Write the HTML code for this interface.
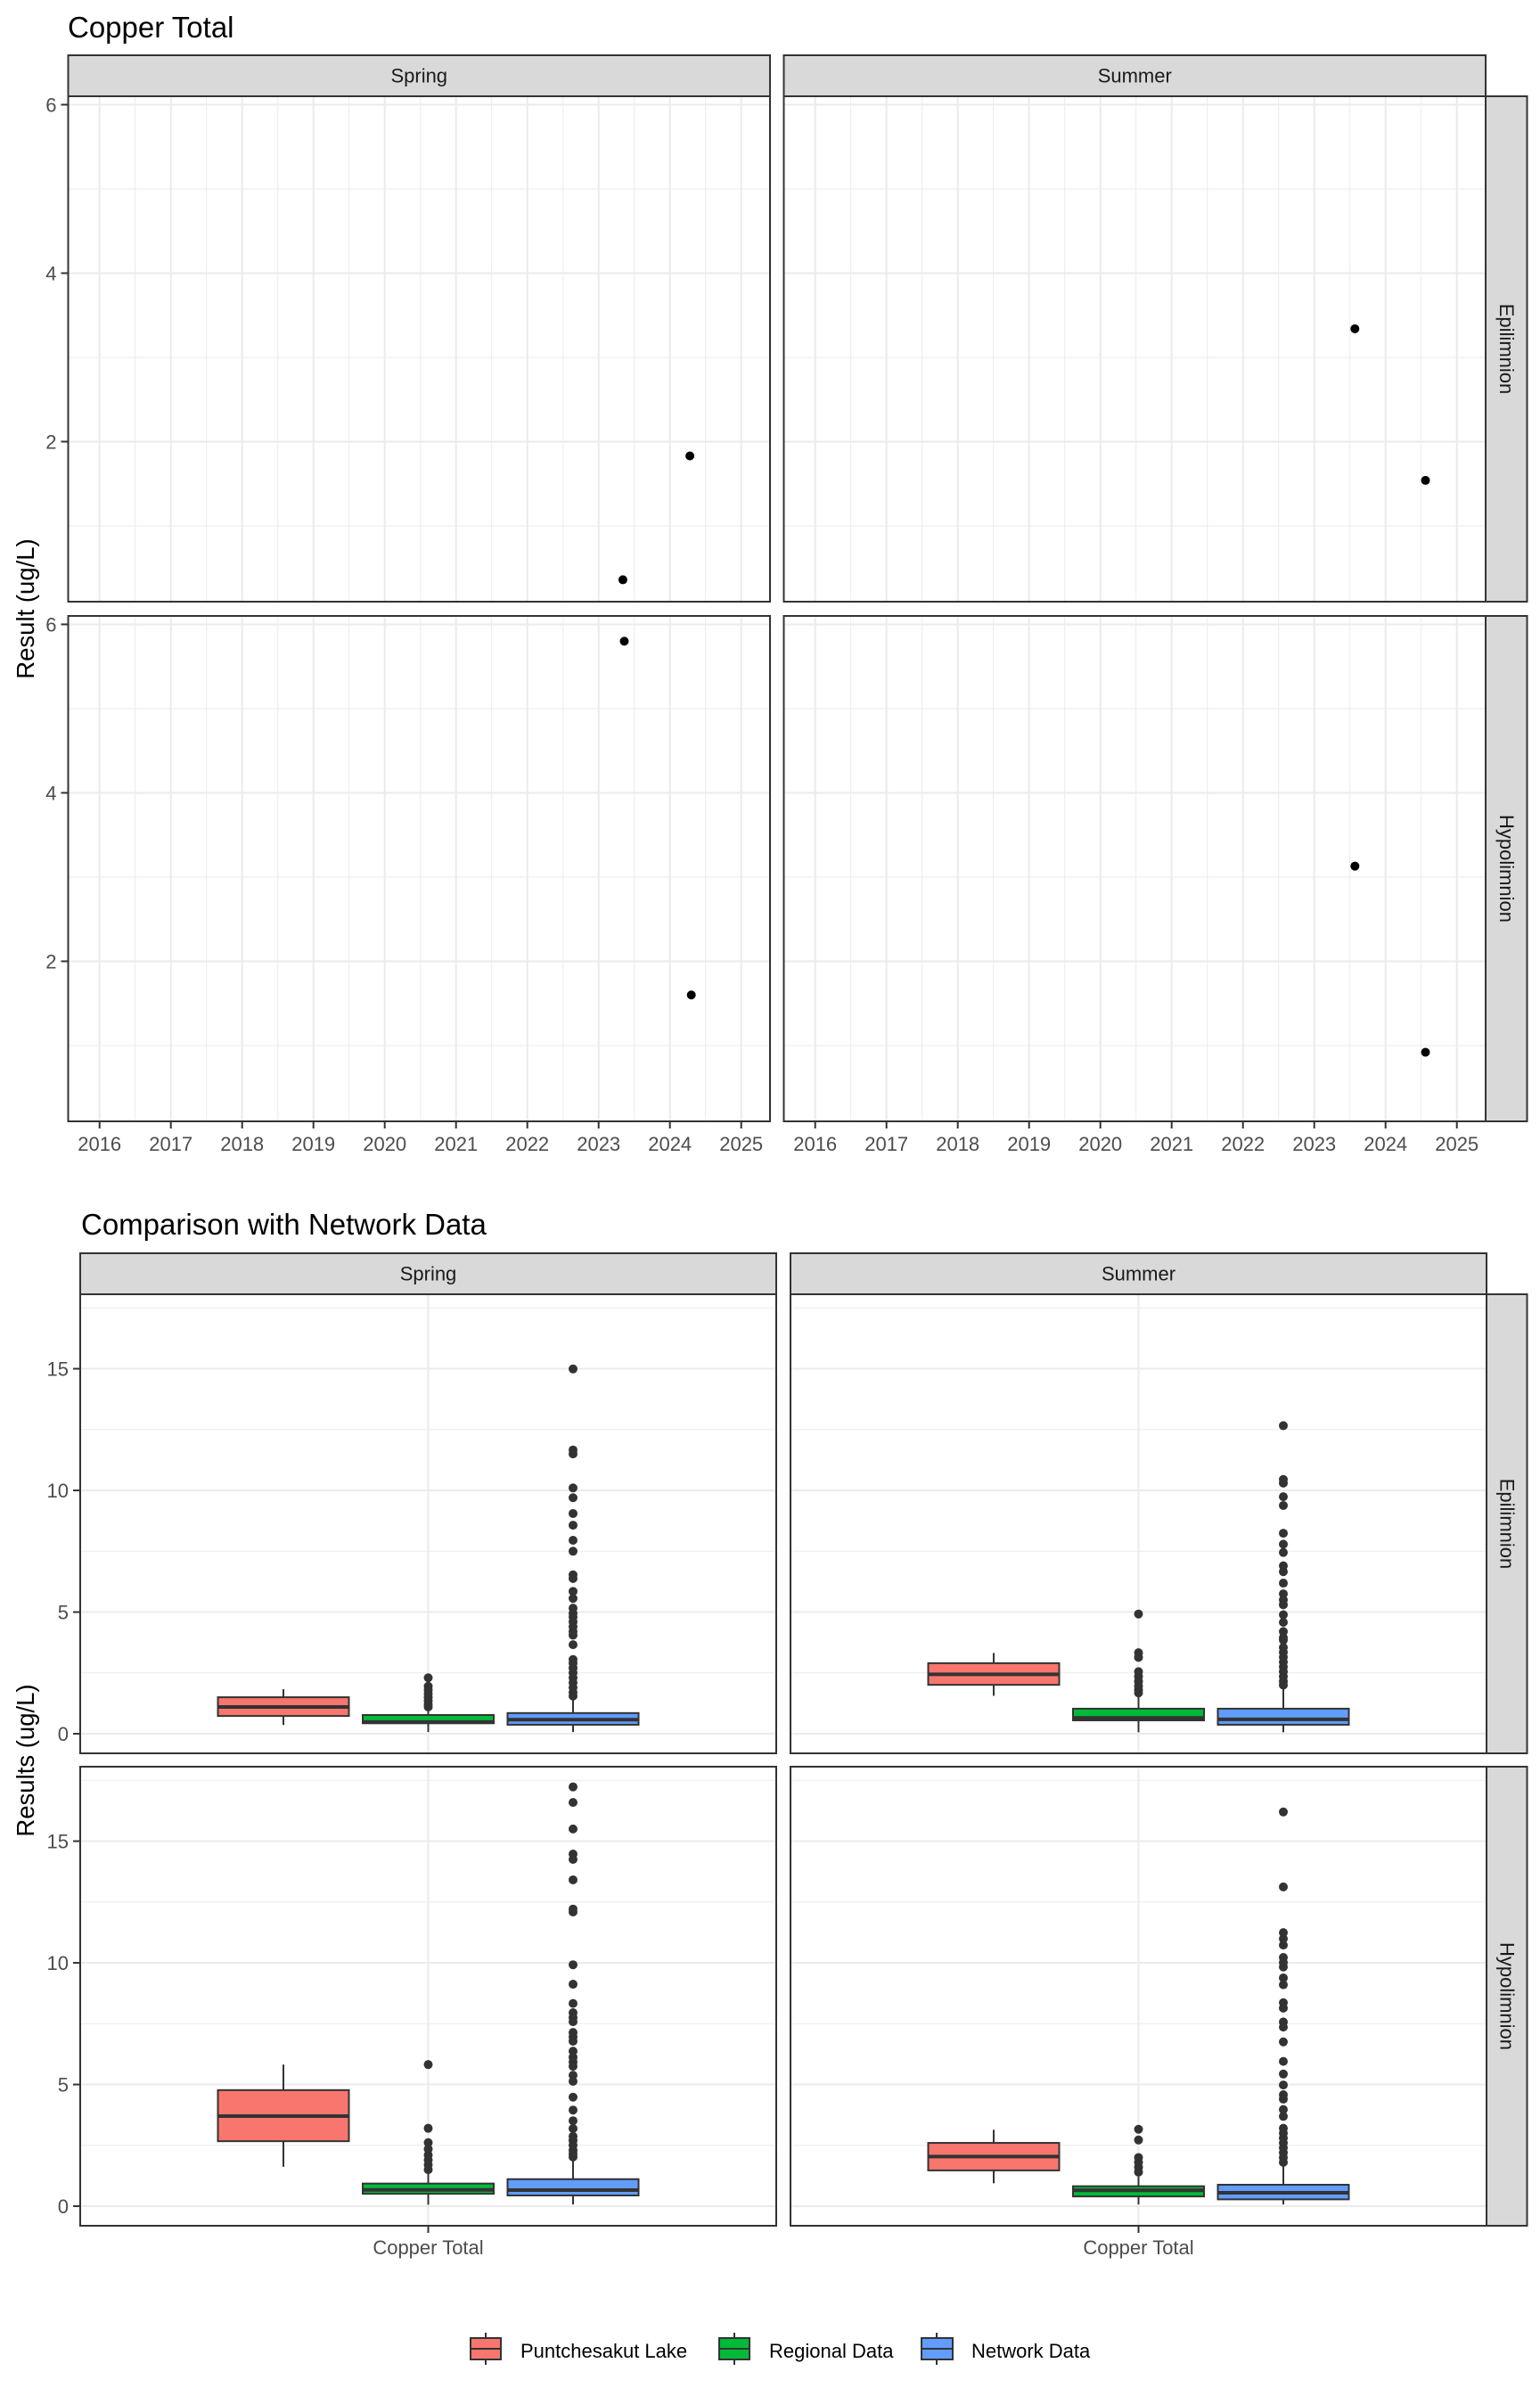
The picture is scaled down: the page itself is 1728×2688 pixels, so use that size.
<!DOCTYPE html>
<html><head><meta charset="utf-8"><title>Copper Total</title>
<style>
html,body{margin:0;padding:0;background:#fff;}
svg{display:block;font-family:"Liberation Sans",Arial,sans-serif;}
.tick{fill:#4D4D4D;font-size:22px;}
.strip{fill:#1A1A1A;font-size:22px;}
</style></head>
<body>
<svg id="fig" xmlns="http://www.w3.org/2000/svg" width="1728" height="2688" viewBox="0 0 1728 2688">
<rect x="0" y="0" width="1728" height="2688" fill="#fff"/>
<text x="76" y="42" font-size="33" fill="#000">Copper Total</text>
<text x="91" y="1385" font-size="33" fill="#000">Comparison with Network Data</text>
<text transform="translate(38,683) rotate(-90)" text-anchor="middle" font-size="27.5" fill="#000">Result (ug/L)</text>
<text transform="translate(38,1975) rotate(-90)" text-anchor="middle" font-size="27.5" fill="#000">Results (ug/L)</text>
<g id="top"></g>
<g id="bottom"></g>
<g>
 <g>
  <line x1="545" y1="2617" x2="545" y2="2653" stroke="#333" stroke-width="2"/>
  <rect x="528" y="2623" width="34" height="24" fill="#F8766D" stroke="#333" stroke-width="2"/>
  <line x1="528" y1="2635" x2="562" y2="2635" stroke="#333" stroke-width="2"/>
  <text x="584" y="2645" font-size="22" fill="#000">Puntchesakut Lake</text>
 </g>
 <g>
  <line x1="824" y1="2617" x2="824" y2="2653" stroke="#333" stroke-width="2"/>
  <rect x="807" y="2623" width="34" height="24" fill="#00BA38" stroke="#333" stroke-width="2"/>
  <line x1="807" y1="2635" x2="841" y2="2635" stroke="#333" stroke-width="2"/>
  <text x="863" y="2645" font-size="22" fill="#000">Regional Data</text>
 </g>
 <g>
  <line x1="1051" y1="2617" x2="1051" y2="2653" stroke="#333" stroke-width="2"/>
  <rect x="1034" y="2623" width="35" height="24" fill="#619CFF" stroke="#333" stroke-width="2"/>
  <line x1="1034" y1="2635" x2="1069" y2="2635" stroke="#333" stroke-width="2"/>
  <text x="1090" y="2645" font-size="22" fill="#000">Network Data</text>
 </g>
</g>
</svg>
<script>
// ---------- Top chart data ----------
const yearTicks = [2016,2017,2018,2019,2020,2021,2022,2023,2024,2025];
const topYTicks = [2,4,6];
const topYMinor = [1,3,5];
const springEpiX = [2023.34, 2024.28];
const springEpiY = [0.36, 1.83];
const summerEpiX = [2023.57, 2024.56];
const summerEpiY = [3.34, 1.54];
const springHypoX = [2023.36, 2024.30];
const springHypoY = [5.8, 1.6];
const summerHypoX = [2023.57, 2024.56];
const summerHypoY = [3.13, 0.92];

// ---------- Bottom chart data ----------
const groups = ['Puntchesakut Lake','Regional Data','Network Data'];
const groupColors = ['#F8766D','#00BA38','#619CFF'];
const bottomYTicks = [0,5,10,15];
const bottomYMinor = [2.5,7.5,12.5,17.5];
const springEpiQ1 = [0.73,0.43,0.37];
const springEpiMed = [1.1,0.48,0.58];
const springEpiQ3 = [1.5,0.77,0.85];
const springEpiLo = [0.36,0.07,0.07];
const springEpiHi = [1.83,1.0,1.47];
const springEpiRegionalOut = [2.3,1.95,1.8,1.65,1.5,1.35,1.2,1.1];
const springEpiNetworkOut = [14.99,11.66,11.5,10.1,9.7,9.05,8.57,7.95,7.5,6.53,6.38,5.85,5.56,5.16,4.95,4.8,4.6,4.4,4.2,4.05,3.66,3.05,2.9,2.7,2.5,2.3,2.1,1.9,1.7,1.55];
const summerEpiQ1 = [2.01,0.55,0.37];
const summerEpiMed = [2.44,0.65,0.59];
const summerEpiQ3 = [2.9,1.03,1.03];
const summerEpiLo = [1.56,0.06,0.06];
const summerEpiHi = [3.32,1.59,1.89];
const summerEpiRegionalOut = [4.92,3.33,3.14,2.55,2.35,2.15,1.95,1.8,1.68];
const summerEpiNetworkOut = [12.66,10.45,10.3,9.74,9.38,8.24,7.79,7.45,6.9,6.66,6.19,5.75,5.5,5.3,4.89,4.58,4.2,3.95,3.85,3.55,3.35,3.15,2.95,2.75,2.55,2.35,2.15,2.0];
const springHypoQ1 = [2.67,0.51,0.44];
const springHypoMed = [3.7,0.67,0.66];
const springHypoQ3 = [4.77,0.93,1.11];
const springHypoLo = [1.62,0.06,0.07];
const springHypoHi = [5.82,1.35,1.89];
const springHypoRegionalOut = [5.82,3.2,2.61,2.35,2.1,1.9,1.7,1.5];
const springHypoNetworkOut = [17.23,16.59,15.5,14.47,14.25,13.41,12.21,12.09,9.92,9.12,8.33,7.95,7.75,7.58,7.14,6.96,6.78,6.37,6.12,5.93,5.75,5.38,5.13,4.48,3.95,3.51,3.19,2.87,2.7,2.5,2.3,2.15,2.02];
const summerHypoQ1 = [1.47,0.40,0.28];
const summerHypoMed = [2.04,0.65,0.55];
const summerHypoQ3 = [2.6,0.82,0.88];
const summerHypoLo = [0.94,0.07,0.07];
const summerHypoHi = [3.14,1.22,1.67];
const summerHypoRegionalOut = [3.16,2.72,2.0,1.8,1.6,1.4];
const summerHypoNetworkOut = [16.2,13.12,11.24,10.99,10.73,10.22,10.01,9.83,9.38,9.1,8.36,8.14,7.57,7.36,6.75,5.95,5.43,4.98,4.58,4.4,3.97,3.69,3.2,3.0,2.8,2.6,2.4,2.2,2.0,1.8];

const NS = 'http://www.w3.org/2000/svg';
function mk(tag, attrs, parent){
  const e = document.createElementNS(NS, tag);
  for (const k in attrs) e.setAttribute(k, attrs[k]);
  parent.appendChild(e);
  return e;
}
const topG = document.getElementById('top');
const botG = document.getElementById('bottom');

// ---------- Top chart layout ----------
const T = {cols:[76.5,879.5], w:787.5, rows:[108,691], h:567, xMin:2015.56, xPx:80, yMax:6.1, yPx:94.5};
function txTop(c, yr){ return T.cols[c] + (yr - T.xMin) * T.xPx; }
function tyTop(r, v){ return T.rows[r] + (T.yMax - v) * T.yPx; }

function stripTop(x, y, w, h, label, vertical, name, parent){
  const g = mk('g', {}, parent);
  
  
  mk('rect', {x:x, y:y, width:w, height:h, fill:'#D9D9D9', stroke:'#333333', 'stroke-width':2}, g);
  const cx = x + w/2, cy = y + h/2;
  const t = mk('text', {class:'strip', 'text-anchor':'middle', 'dominant-baseline':'central',
    transform: vertical ? 'translate('+cx+','+cy+') rotate(90)' : 'translate('+cx+','+cy+')'}, g);
  t.textContent = label;
}

const topFacets = [
  {c:0,r:0,xs:springEpiX,ys:springEpiY,name:'spring-epilimnion'},
  {c:1,r:0,xs:summerEpiX,ys:summerEpiY,name:'summer-epilimnion'},
  {c:0,r:1,xs:springHypoX,ys:springHypoY,name:'spring-hypolimnion'},
  {c:1,r:1,xs:summerHypoX,ys:summerHypoY,name:'summer-hypolimnion'}
];
topFacets.forEach(f => {
  const g = mk('g', {}, topG);
  
  
  const L = T.cols[f.c], Tp = T.rows[f.r];
  mk('rect', {x:L, y:Tp, width:T.w, height:T.h, fill:'#fff'}, g);
  // minor grid
  topYMinor.forEach(v => { mk('line', {x1:L, x2:L+T.w, y1:tyTop(f.r,v), y2:tyTop(f.r,v), stroke:'#EBEBEB', 'stroke-width':1}, g); });
  yearTicks.forEach(yr => { const x = txTop(f.c, yr+0.5); if (x < L+T.w) mk('line', {x1:x, x2:x, y1:Tp, y2:Tp+T.h, stroke:'#EBEBEB', 'stroke-width':1}, g); });
  // major grid
  topYTicks.forEach(v => { mk('line', {x1:L, x2:L+T.w, y1:tyTop(f.r,v), y2:tyTop(f.r,v), stroke:'#EBEBEB', 'stroke-width':2}, g); });
  yearTicks.forEach(yr => { const x = txTop(f.c, yr); mk('line', {x1:x, x2:x, y1:Tp, y2:Tp+T.h, stroke:'#EBEBEB', 'stroke-width':2}, g); });
  // points
  f.xs.forEach((xv, i) => {
    const p = mk('circle', {cx:txTop(f.c, xv), cy:tyTop(f.r, f.ys[i]), r:5, fill:'#000'}, g);
    
    
  });
  mk('rect', {x:L, y:Tp, width:T.w, height:T.h, fill:'none', stroke:'#333333', 'stroke-width':2}, g);
});
// top y axis ticks
[0,1].forEach(r => {
  const ax = mk('g', {}, topG);
  
  
  topYTicks.forEach(v => {
    const y = tyTop(r, v);
    mk('line', {x1:T.cols[0]-8, x2:T.cols[0], y1:y, y2:y, stroke:'#333', 'stroke-width':2}, ax);
    const t = mk('text', {x:T.cols[0]-13, y:y+8, class:'tick', 'text-anchor':'end'}, ax);
    t.textContent = v;
  });
});
// top x axis ticks
[0,1].forEach(c => {
  const ax = mk('g', {}, topG);
  
  
  const yb = T.rows[1] + T.h;
  yearTicks.forEach(yr => {
    const x = txTop(c, yr);
    mk('line', {x1:x, x2:x, y1:yb, y2:yb+8, stroke:'#333', 'stroke-width':2}, ax);
    const t = mk('text', {x:x, y:yb+33, class:'tick', 'text-anchor':'middle'}, ax);
    t.textContent = yr;
  });
});
stripTop(T.cols[0], 62, T.w, 46, 'Spring', false, 'top-strip-spring', topG);
stripTop(T.cols[1], 62, T.w, 46, 'Summer', false, 'top-strip-summer', topG);
stripTop(1667, T.rows[0], 46.5, T.h, 'Epilimnion', true, 'top-strip-epilimnion', topG);
stripTop(1667, T.rows[1], 46.5, T.h, 'Hypolimnion', true, 'top-strip-hypolimnion', topG);

// ---------- Bottom chart layout ----------
const B = {cols:[90,887], w:781, rows:[1452,1982], h:515, yMax:18.06, yPx:27.3, dodge:162.5, boxW:147};
function tyBot(r, v){ return B.rows[r] + (B.yMax - v) * B.yPx; }
function txBot(c, gi){ return B.cols[c] + B.w/2 + (gi - 1) * B.dodge; }

const botFacets = [
  {c:0,r:0,name:'spring-epilimnion',q1:springEpiQ1,med:springEpiMed,q3:springEpiQ3,lo:springEpiLo,hi:springEpiHi,outs:[[],springEpiRegionalOut,springEpiNetworkOut]},
  {c:1,r:0,name:'summer-epilimnion',q1:summerEpiQ1,med:summerEpiMed,q3:summerEpiQ3,lo:summerEpiLo,hi:summerEpiHi,outs:[[],summerEpiRegionalOut,summerEpiNetworkOut]},
  {c:0,r:1,name:'spring-hypolimnion',q1:springHypoQ1,med:springHypoMed,q3:springHypoQ3,lo:springHypoLo,hi:springHypoHi,outs:[[],springHypoRegionalOut,springHypoNetworkOut]},
  {c:1,r:1,name:'summer-hypolimnion',q1:summerHypoQ1,med:summerHypoMed,q3:summerHypoQ3,lo:summerHypoLo,hi:summerHypoHi,outs:[[],summerHypoRegionalOut,summerHypoNetworkOut]}
];
botFacets.forEach(f => {
  const g = mk('g', {}, botG);
  
  
  const L = B.cols[f.c], Tp = B.rows[f.r];
  mk('rect', {x:L, y:Tp, width:B.w, height:B.h, fill:'#fff'}, g);
  bottomYMinor.forEach(v => { mk('line', {x1:L, x2:L+B.w, y1:tyBot(f.r,v), y2:tyBot(f.r,v), stroke:'#EBEBEB', 'stroke-width':1}, g); });
  bottomYTicks.forEach(v => { mk('line', {x1:L, x2:L+B.w, y1:tyBot(f.r,v), y2:tyBot(f.r,v), stroke:'#EBEBEB', 'stroke-width':2}, g); });
  mk('line', {x1:L+B.w/2, x2:L+B.w/2, y1:Tp, y2:Tp+B.h, stroke:'#EBEBEB', 'stroke-width':2}, g);
  groups.forEach((gn, gi) => {
    const bx = mk('g', {}, g);
    
    
    const cx = txBot(f.c, gi);
    mk('line', {x1:cx, x2:cx, y1:tyBot(f.r, f.hi[gi]), y2:tyBot(f.r, f.q3[gi]), stroke:'#333', 'stroke-width':2}, bx);
    mk('line', {x1:cx, x2:cx, y1:tyBot(f.r, f.q1[gi]), y2:tyBot(f.r, f.lo[gi]), stroke:'#333', 'stroke-width':2}, bx);
    const yq3 = tyBot(f.r, f.q3[gi]), yq1 = tyBot(f.r, f.q1[gi]);
    mk('rect', {x:cx - B.boxW/2, y:yq3, width:B.boxW, height:Math.max(yq1 - yq3, 0.5), fill:groupColors[gi], stroke:'#333', 'stroke-width':2}, bx);
    const ym = tyBot(f.r, f.med[gi]);
    mk('line', {x1:cx - B.boxW/2, x2:cx + B.boxW/2, y1:ym, y2:ym, stroke:'#333', 'stroke-width':4}, bx);
    f.outs[gi].forEach((v, k) => {
      const o = mk('circle', {cx:cx, cy:tyBot(f.r, v), r:5, fill:'#333'}, bx);
      
      
    });
  });
  mk('rect', {x:L, y:Tp, width:B.w, height:B.h, fill:'none', stroke:'#333333', 'stroke-width':2}, g);
});
[0,1].forEach(r => {
  const ax = mk('g', {}, botG);
  
  
  bottomYTicks.forEach(v => {
    const y = tyBot(r, v);
    mk('line', {x1:B.cols[0]-8, x2:B.cols[0], y1:y, y2:y, stroke:'#333', 'stroke-width':2}, ax);
    const t = mk('text', {x:B.cols[0]-13, y:y+8, class:'tick', 'text-anchor':'end'}, ax);
    t.textContent = v;
  });
});
[0,1].forEach(c => {
  const ax = mk('g', {}, botG);
  
  
  const yb = B.rows[1] + B.h, x = B.cols[c] + B.w/2;
  mk('line', {x1:x, x2:x, y1:yb, y2:yb+8, stroke:'#333', 'stroke-width':2}, ax);
  const t = mk('text', {x:x, y:yb+32, class:'tick', 'text-anchor':'middle'}, ax);
  t.textContent = 'Copper Total';
});
stripTop(B.cols[0], 1406, B.w, 46, 'Spring', false, 'bottom-strip-spring', botG);
stripTop(B.cols[1], 1406, B.w, 46, 'Summer', false, 'bottom-strip-summer', botG);
stripTop(1668, B.rows[0], 45.5, B.h, 'Epilimnion', true, 'bottom-strip-epilimnion', botG);
stripTop(1668, B.rows[1], 45.5, B.h, 'Hypolimnion', true, 'bottom-strip-hypolimnion', botG);
</script>
</body></html>
